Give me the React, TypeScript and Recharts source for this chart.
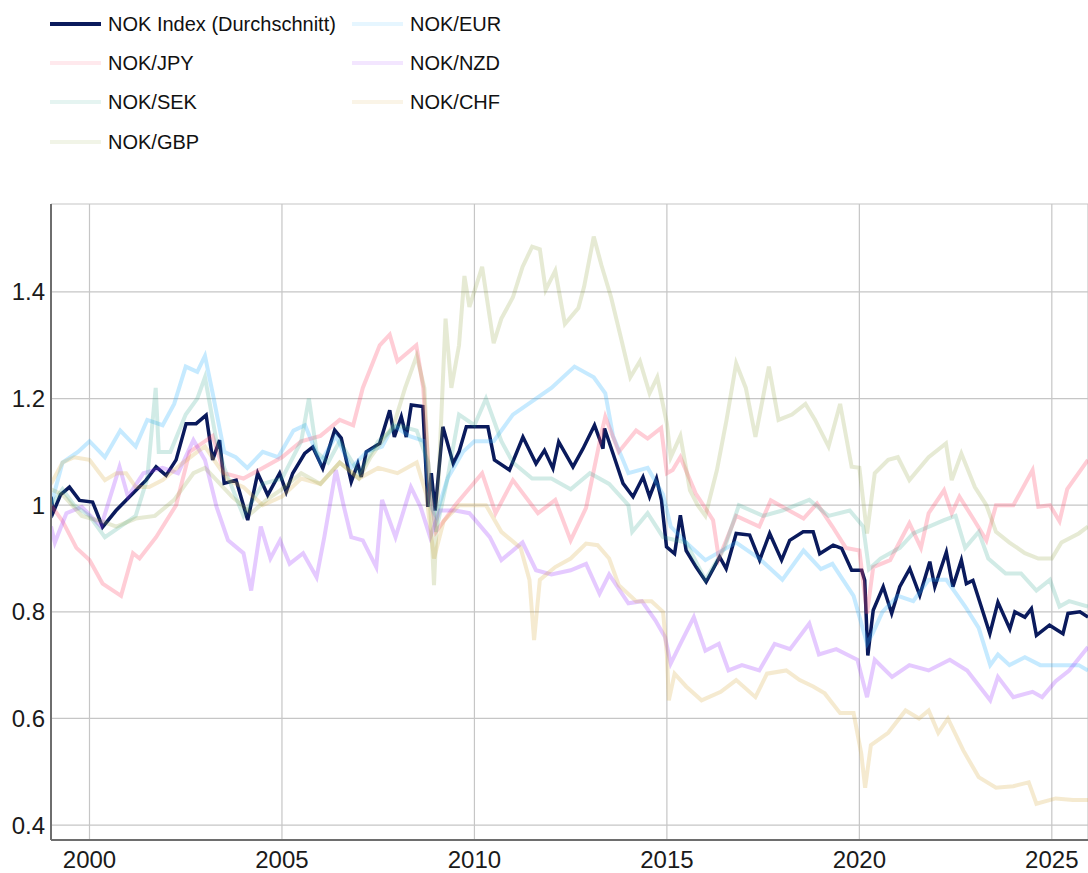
import React from "react";
import { LineChart, Line, XAxis, YAxis, CartesianGrid } from "recharts";

// [year, value]
const indexPts: number[][] = [
  [1999.0, 1.016], [1999.06, 0.987], [1999.25, 1.02], [1999.48, 1.034], [1999.74, 1.009], [2000.08, 1.006], [2000.34, 0.959],
  [2000.69, 0.99], [2001.04, 1.016], [2001.47, 1.047], [2001.73, 1.072], [2001.99, 1.056], [2002.25, 1.085], [2002.51, 1.153],
  [2002.77, 1.153], [2003.03, 1.169], [2003.2, 1.085], [2003.38, 1.122], [2003.5, 1.041], [2003.81, 1.047], [2004.11, 0.972],
  [2004.37, 1.06], [2004.63, 1.019], [2004.94, 1.06], [2005.11, 1.025], [2005.28, 1.06], [2005.59, 1.097], [2005.8, 1.109],
  [2006.06, 1.069], [2006.37, 1.141], [2006.54, 1.126], [2006.8, 1.044], [2006.97, 1.078], [2007.06, 1.053], [2007.19, 1.1],
  [2007.54, 1.116], [2007.8, 1.178], [2007.92, 1.128], [2008.1, 1.166], [2008.23, 1.128], [2008.36, 1.188], [2008.66, 1.185],
  [2008.79, 0.997], [2008.88, 1.06], [2008.98, 0.99], [2009.18, 1.147], [2009.45, 1.078], [2009.6, 1.1], [2009.79, 1.147],
  [2010.13, 1.147], [2010.35, 1.147], [2010.52, 1.085], [2010.91, 1.066], [2011.26, 1.128], [2011.6, 1.078], [2011.82, 1.103],
  [2012.04, 1.069], [2012.19, 1.119], [2012.56, 1.072], [2012.82, 1.106], [2013.12, 1.15], [2013.34, 1.106], [2013.38, 1.144],
  [2013.6, 1.097], [2013.86, 1.041], [2014.12, 1.016], [2014.38, 1.053], [2014.55, 1.016], [2014.73, 1.05], [2014.86, 1.009],
  [2014.99, 0.922], [2015.2, 0.909], [2015.35, 0.981], [2015.5, 0.915], [2015.76, 0.884], [2016.02, 0.856], [2016.37, 0.903],
  [2016.54, 0.881], [2016.8, 0.947], [2017.15, 0.944], [2017.41, 0.897], [2017.67, 0.947], [2017.98, 0.897], [2018.19, 0.934],
  [2018.54, 0.95], [2018.8, 0.95], [2018.97, 0.909], [2019.32, 0.925], [2019.54, 0.919], [2019.8, 0.878], [2020.06, 0.878],
  [2020.14, 0.859], [2020.22, 0.718], [2020.36, 0.803], [2020.62, 0.847], [2020.84, 0.797], [2021.05, 0.847], [2021.31, 0.881],
  [2021.57, 0.831], [2021.83, 0.894], [2021.96, 0.847], [2022.26, 0.912], [2022.43, 0.847], [2022.65, 0.897], [2022.78, 0.853],
  [2022.95, 0.859], [2023.17, 0.809], [2023.39, 0.759], [2023.6, 0.818], [2023.91, 0.768], [2024.04, 0.8], [2024.3, 0.79],
  [2024.47, 0.806], [2024.6, 0.756], [2024.94, 0.775], [2025.29, 0.759], [2025.42, 0.797], [2025.73, 0.8], [2025.94, 0.79],
];

const eurPts: number[][] = [
  [1999.0, 1.0], [1999.3, 1.08], [1999.7, 1.1], [2000.0, 1.12], [2000.4, 1.09], [2000.8, 1.14], [2001.2, 1.11], [2001.5, 1.16],
  [2001.9, 1.15], [2002.2, 1.19], [2002.5, 1.26], [2002.8, 1.25], [2003.0, 1.28], [2003.2, 1.21], [2003.5, 1.1], [2003.8, 1.09],
  [2004.1, 1.07], [2004.5, 1.1], [2004.9, 1.09], [2005.3, 1.14], [2005.6, 1.15], [2006.0, 1.08], [2006.4, 1.13], [2006.8, 1.07],
  [2007.2, 1.1], [2007.6, 1.11], [2007.9, 1.15], [2008.3, 1.13], [2008.7, 1.12], [2008.85, 1.0], [2009.0, 0.98], [2009.3, 1.05],
  [2009.7, 1.1], [2010.0, 1.12], [2010.5, 1.12], [2011.0, 1.17], [2011.6, 1.2], [2012.0, 1.22], [2012.6, 1.26], [2013.1, 1.24],
  [2013.4, 1.21], [2013.6, 1.13], [2014.0, 1.06], [2014.5, 1.07], [2014.9, 1.02], [2015.1, 0.96], [2015.5, 0.93], [2016.0, 0.897],
  [2016.8, 0.93], [2017.4, 0.9], [2018.0, 0.86], [2018.55, 0.915], [2019.0, 0.88], [2019.3, 0.89], [2019.85, 0.83], [2020.2, 0.74],
  [2020.35, 0.76], [2020.6, 0.8], [2021.0, 0.83], [2021.4, 0.82], [2021.8, 0.86], [2022.26, 0.86], [2022.75, 0.81], [2023.1, 0.77],
  [2023.4, 0.7], [2023.6, 0.72], [2023.9, 0.7], [2024.3, 0.715], [2024.7, 0.7], [2025.1, 0.7], [2025.7, 0.7], [2025.94, 0.69],
];

const jpyPts: number[][] = [
  [1999.0, 1.0], [1999.3, 0.97], [1999.66, 0.92], [2000.0, 0.897], [2000.34, 0.853], [2000.82, 0.83], [2001.13, 0.91],
  [2001.3, 0.9], [2001.73, 0.94], [2002.25, 1.0], [2002.6, 1.1], [2003.2, 1.13], [2003.5, 1.06], [2004.0, 1.05], [2004.5, 1.07],
  [2005.0, 1.09], [2005.5, 1.12], [2006.0, 1.13], [2006.5, 1.16], [2006.85, 1.15], [2007.1, 1.22], [2007.54, 1.3], [2007.8, 1.32],
  [2008.0, 1.27], [2008.49, 1.3], [2008.67, 1.22], [2008.85, 1.02], [2009.0, 0.95], [2009.5, 1.0], [2010.2, 1.06], [2010.55, 0.985],
  [2011.0, 1.047], [2011.65, 0.985], [2012.1, 1.01], [2012.5, 0.934], [2012.9, 0.995], [2013.3, 1.135], [2013.4, 1.166],
  [2013.75, 1.1], [2014.2, 1.14], [2014.5, 1.125], [2014.85, 1.145], [2015.0, 1.06], [2015.15, 1.066], [2015.35, 1.09],
  [2015.75, 1.022], [2016.2, 0.972], [2016.35, 0.9], [2016.8, 0.98], [2017.4, 0.96], [2017.7, 1.009], [2018.0, 0.997],
  [2018.55, 0.975], [2018.9, 1.003], [2019.3, 0.96], [2019.65, 0.92], [2020.0, 0.915], [2020.2, 0.797], [2020.36, 0.884],
  [2020.8, 0.897], [2021.3, 0.966], [2021.6, 0.92], [2021.8, 0.985], [2022.2, 1.028], [2022.4, 0.985], [2022.6, 1.016],
  [2023.0, 0.97], [2023.3, 0.934], [2023.55, 1.0], [2024.0, 1.0], [2024.5, 1.066], [2024.65, 0.997], [2024.95, 1.0],
  [2025.2, 0.97], [2025.4, 1.03], [2025.94, 1.085],
];

const nzdPts: number[][] = [
  [1999.0, 0.96], [1999.1, 0.93], [1999.4, 0.985], [1999.8, 0.997], [2000.3, 0.96], [2000.78, 1.072], [2001.0, 1.016],
  [2001.4, 1.06], [2001.9, 1.07], [2002.3, 1.06], [2002.7, 1.122], [2003.0, 1.085], [2003.3, 0.997], [2003.6, 0.934],
  [2004.0, 0.91], [2004.2, 0.84], [2004.45, 0.96], [2004.7, 0.9], [2004.95, 0.934], [2005.2, 0.89], [2005.55, 0.91],
  [2005.9, 0.865], [2006.1, 0.94], [2006.4, 1.066], [2006.6, 1.0], [2006.8, 0.94], [2007.1, 0.934], [2007.45, 0.884],
  [2007.6, 1.01], [2007.95, 0.94], [2008.35, 1.034], [2008.6, 0.997], [2008.85, 0.94], [2009.1, 0.99], [2009.5, 0.99],
  [2009.87, 0.985], [2010.4, 0.94], [2010.7, 0.897], [2011.25, 0.93], [2011.6, 0.878], [2012.0, 0.87], [2012.5, 0.878],
  [2012.9, 0.89], [2013.25, 0.834], [2013.5, 0.87], [2014.0, 0.816], [2014.35, 0.82], [2014.7, 0.784], [2014.95, 0.753],
  [2015.1, 0.703], [2015.35, 0.74], [2015.7, 0.79], [2016.0, 0.727], [2016.35, 0.74], [2016.6, 0.69], [2016.95, 0.7],
  [2017.4, 0.69], [2017.8, 0.74], [2018.2, 0.73], [2018.7, 0.778], [2018.95, 0.72], [2019.4, 0.73], [2019.95, 0.71],
  [2020.2, 0.64], [2020.4, 0.71], [2020.85, 0.678], [2021.3, 0.7], [2021.8, 0.69], [2022.35, 0.71], [2022.8, 0.69],
  [2023.4, 0.634], [2023.6, 0.678], [2024.0, 0.64], [2024.5, 0.65], [2024.75, 0.64], [2025.1, 0.67], [2025.45, 0.69],
  [2025.94, 0.734],
];

const sekPts: number[][] = [
  [1999.0, 1.0], [1999.3, 1.03], [1999.6, 1.0], [2000.0, 0.98], [2000.4, 0.94], [2000.8, 0.96], [2001.2, 0.98], [2001.5, 1.05],
  [2001.72, 1.22], [2001.8, 1.1], [2002.1, 1.1], [2002.5, 1.17], [2002.8, 1.2], [2003.0, 1.24], [2003.3, 1.12], [2003.5, 1.07],
  [2004.0, 0.98], [2004.5, 1.04], [2005.0, 1.05], [2005.5, 1.12], [2005.7, 1.2], [2005.9, 1.1], [2006.2, 1.08], [2006.5, 1.12],
  [2007.0, 1.06], [2007.5, 1.12], [2008.0, 1.15], [2008.5, 1.14], [2008.8, 1.08], [2009.0, 0.95], [2009.3, 1.05], [2009.6, 1.17],
  [2010.0, 1.15], [2010.3, 1.2], [2010.7, 1.12], [2011.0, 1.08], [2011.5, 1.05], [2012.0, 1.05], [2012.5, 1.03], [2013.0, 1.06],
  [2013.5, 1.04], [2014.0, 1.0], [2014.1, 0.95], [2014.5, 0.985], [2014.9, 0.94], [2015.5, 0.93], [2016.0, 0.86], [2016.5, 0.92],
  [2016.87, 1.0], [2017.5, 0.98], [2018.0, 0.99], [2018.7, 1.01], [2019.2, 0.98], [2019.75, 0.99], [2020.1, 0.96], [2020.25, 0.88],
  [2020.55, 0.9], [2021.05, 0.92], [2021.4, 0.947], [2022.2, 0.972], [2022.5, 0.98], [2022.75, 0.92], [2023.1, 0.95],
  [2023.35, 0.9], [2023.8, 0.872], [2024.2, 0.872], [2024.6, 0.84], [2024.95, 0.86], [2025.2, 0.81], [2025.45, 0.82],
  [2025.94, 0.81],
];

const chfPts: number[][] = [
  [1999.0, 1.04], [1999.3, 1.08], [1999.6, 1.09], [2000.0, 1.085], [2000.4, 1.047], [2000.7, 1.06], [2000.95, 1.06],
  [2001.2, 1.034], [2001.55, 1.034], [2001.9, 1.047], [2002.4, 1.078], [2002.85, 1.103], [2003.0, 1.11], [2003.3, 1.078],
  [2003.6, 1.047], [2004.0, 1.034], [2004.5, 1.0], [2005.0, 1.016], [2005.5, 1.05], [2006.0, 1.04], [2006.5, 1.08],
  [2007.0, 1.05], [2007.5, 1.07], [2008.0, 1.06], [2008.5, 1.08], [2008.75, 1.02], [2008.95, 0.9], [2009.2, 0.97],
  [2009.6, 1.0], [2010.1, 1.0], [2010.3, 1.0], [2010.7, 0.95], [2011.2, 0.92], [2011.43, 0.86], [2011.55, 0.747],
  [2011.7, 0.86], [2012.1, 0.884], [2012.5, 0.9], [2012.9, 0.928], [2013.2, 0.925], [2013.5, 0.9], [2013.75, 0.85],
  [2014.2, 0.82], [2014.6, 0.82], [2014.9, 0.8], [2015.0, 0.72], [2015.05, 0.634], [2015.2, 0.684], [2015.5, 0.66],
  [2015.9, 0.634], [2016.4, 0.65], [2016.8, 0.672], [2017.3, 0.64], [2017.6, 0.684], [2018.1, 0.69], [2018.45, 0.672],
  [2018.8, 0.66], [2019.1, 0.647], [2019.5, 0.61], [2019.85, 0.61], [2020.05, 0.534], [2020.15, 0.47], [2020.3, 0.55],
  [2020.75, 0.573], [2021.2, 0.615], [2021.55, 0.6], [2021.8, 0.615], [2022.05, 0.573], [2022.3, 0.6], [2022.7, 0.54],
  [2023.1, 0.49], [2023.55, 0.47], [2024.0, 0.473], [2024.4, 0.48], [2024.6, 0.44], [2025.1, 0.45], [2025.55, 0.447],
  [2025.94, 0.447],
];

const gbpPts: number[][] = [
  [1999.0, 1.03], [1999.3, 1.02], [1999.8, 0.98], [2000.3, 0.97], [2000.7, 0.96], [2001.2, 0.975], [2001.7, 0.98],
  [2002.2, 1.01], [2002.7, 1.06], [2003.0, 1.07], [2003.3, 1.047], [2003.7, 1.016], [2004.2, 0.985], [2004.6, 1.01],
  [2005.0, 1.03], [2005.5, 1.06], [2006.0, 1.04], [2006.5, 1.08], [2007.0, 1.05], [2007.3, 1.09], [2007.6, 1.12],
  [2007.9, 1.15], [2008.2, 1.22], [2008.5, 1.28], [2008.7, 1.22], [2008.85, 1.0], [2008.95, 0.85], [2009.1, 1.1],
  [2009.25, 1.35], [2009.4, 1.22], [2009.6, 1.3], [2009.74, 1.43], [2009.87, 1.372], [2010.2, 1.447], [2010.5, 1.304],
  [2010.7, 1.35], [2011.0, 1.39], [2011.25, 1.447], [2011.5, 1.485], [2011.7, 1.48], [2011.85, 1.404], [2012.1, 1.44],
  [2012.35, 1.34], [2012.7, 1.37], [2012.85, 1.41], [2013.1, 1.504], [2013.3, 1.45], [2013.55, 1.39], [2013.8, 1.316],
  [2014.05, 1.24], [2014.3, 1.27], [2014.55, 1.21], [2014.75, 1.24], [2015.0, 1.153], [2015.1, 1.09], [2015.35, 1.13],
  [2015.6, 1.028], [2015.8, 1.0], [2016.0, 0.98], [2016.3, 1.066], [2016.55, 1.16], [2016.8, 1.266], [2017.05, 1.22],
  [2017.3, 1.128], [2017.65, 1.26], [2017.9, 1.16], [2018.25, 1.17], [2018.6, 1.19], [2018.85, 1.16], [2019.2, 1.11],
  [2019.5, 1.19], [2019.8, 1.072], [2020.0, 1.07], [2020.2, 0.947], [2020.4, 1.06], [2020.75, 1.085], [2021.0, 1.09],
  [2021.3, 1.047], [2021.8, 1.09], [2022.25, 1.116], [2022.4, 1.047], [2022.65, 1.097], [2023.0, 1.034], [2023.3, 1.0],
  [2023.55, 0.95], [2023.9, 0.93], [2024.3, 0.91], [2024.65, 0.9], [2025.0, 0.9], [2025.25, 0.93], [2025.7, 0.947],
  [2025.94, 0.96],
];

const yearTicks = [2000, 2005, 2010, 2015, 2020, 2025];
const valueTicks = [0.4, 0.6, 0.8, 1, 1.2, 1.4];

const seriesList = [
  { name: "NOK Index (Durchschnitt)", pts: indexPts, color: "#0a1a5c", opacity: 1, width: 3.5 },
  { name: "NOK/EUR", pts: eurPts, color: "#33b5ff", opacity: 0.28, width: 4 },
  { name: "NOK/JPY", pts: jpyPts, color: "#ff4d6d", opacity: 0.28, width: 4 },
  { name: "NOK/NZD", pts: nzdPts, color: "#9933ff", opacity: 0.26, width: 4 },
  { name: "NOK/SEK", pts: sekPts, color: "#2ca58d", opacity: 0.22, width: 4 },
  { name: "NOK/CHF", pts: chfPts, color: "#d4a63a", opacity: 0.24, width: 4 },
  { name: "NOK/GBP", pts: gbpPts, color: "#8fa13a", opacity: 0.22, width: 4 },
];

const FONT = "'Liberation Sans', Arial, Helvetica, sans-serif";

export default function App() {
  const legendCols = [50, 352];
  const legendRows = [24, 63, 102, 142];
  return (
    <div style={{ position: "absolute", left: 0, top: 0, width: 1088, height: 873, background: "#fff", fontFamily: FONT }}>
      <LineChart
        width={1088}
        height={873}
        margin={{ top: 204, right: 0, bottom: 0, left: 0 }}
      >
        <CartesianGrid stroke="#c6c6c6" strokeWidth={1.2} />
        <XAxis
          type="number"
          dataKey="t"
          domain={[1999.0, 2025.94]}
          ticks={yearTicks}
          allowDataOverflow
          height={33}
          tickLine={false}
          tickSize={6}
          tickMargin={5}
          axisLine={{ stroke: "#6e6e6e", strokeWidth: 2 }}
          tick={{ fontSize: 24, fill: "#1a1a1a", fontFamily: FONT }}
        />
        <YAxis
          type="number"
          domain={[0.372, 1.565]}
          ticks={valueTicks}
          allowDataOverflow
          width={51}
          tickLine={false}
          tickSize={6}
          tickMargin={0}
          axisLine={{ stroke: "#6e6e6e", strokeWidth: 2 }}
          tickFormatter={(v: number) => String(v)}
          tick={{ fontSize: 24, fill: "#1a1a1a", fontFamily: FONT }}
        />
        {seriesList.map((s) => (
          <Line
            key={s.name}
            data={s.pts.map(([t, v]) => ({ t, v }))}
            dataKey="v"
            name={s.name}
            type="linear"
            stroke={s.color}
            strokeOpacity={s.opacity}
            strokeWidth={s.width}
            strokeLinejoin="miter"
            dot={false}
            activeDot={false}
            isAnimationActive={false}
          />
        ))}
      </LineChart>
      {seriesList.map((s, i) => {
        const col = i % 2;
        const row = Math.floor(i / 2);
        const x = legendCols[col];
        const y = legendRows[row];
        return (
          <div key={s.name} style={{ position: "absolute", left: x, top: y - 14, height: 28, display: "flex", alignItems: "center" }}>
            <div style={{ width: 51, height: 4, background: s.color, opacity: i === 0 ? 1 : 0.12 }} />
            <span style={{ marginLeft: 7, fontSize: 20, color: "#111", whiteSpace: "nowrap" }}>{s.name}</span>
          </div>
        );
      })}
    </div>
  );
}
